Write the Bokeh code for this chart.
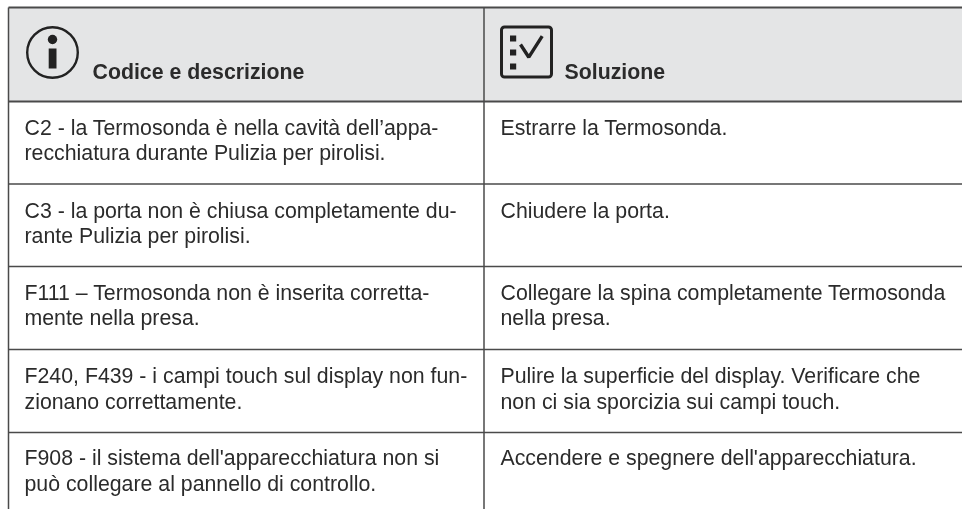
from bokeh.plotting import figure
from bokeh.models import Range1d
from bokeh.core.properties import value
from bokeh.embed import file_html
from bokeh.resources import INLINE

header_labels = ["Codice e descrizione", "Soluzione"]
left_lines = [
    "C2 - la Termosonda è nella cavità dell’appa-", "recchiatura durante Pulizia per pirolisi.",
    "C3 - la porta non è chiusa completamente du-", "rante Pulizia per pirolisi.",
    "F111 – Termosonda non è inserita corretta-", "mente nella presa.",
    "F240, F439 - i campi touch sul display non fun-", "zionano correttamente.",
    "F908 - il sistema dell'apparecchiatura non si", "può collegare al pannello di controllo.",
]
right_lines = [
    "Estrarre la Termosonda.",
    "Chiudere la porta.",
    "Collegare la spina completamente Termosonda", "nella presa.",
    "Pulire la superficie del display. Verificare che", "non ci sia sporcizia sui campi touch.",
    "Accendere e spegnere dell'apparecchiatura.",
]

W, H = 962, 509
p = figure(width=W, height=H, output_backend="svg", toolbar_location=None,
           x_range=Range1d(0, W), y_range=Range1d(H, 0), min_border=0,
           outline_line_color=None, background_fill_color="white", border_fill_color="white")
p.styles = {"position": "fixed", "left": "0px", "top": "0px"}
p.xaxis.visible = False
p.yaxis.visible = False
p.grid.visible = False

INK = "#2b2b2b"
LINE = "#4a4a4a"
ICON = "#222222"
p.quad(left=[8], right=[W], top=[7], bottom=[101], fill_color="#e4e5e6", line_color=None)

p.segment(x0=[8]*2, x1=[W]*2, y0=[7, 101], y1=[7, 101], line_color=LINE, line_width=2)
rules = [183.5, 266, 349, 432]
p.segment(x0=[8]*4, x1=[W]*4, y0=rules, y1=rules, line_color=LINE, line_width=1.5)
p.segment(x0=[8, 483.5], x1=[8, 483.5], y0=[7, 7], y1=[H, H], line_color=LINE, line_width=1.5)

left_y = [135, 160, 218, 243, 300, 325, 383, 409, 465, 491]
right_y = [135, 218, 300, 325, 383, 409, 465]
for xs, ys, tx in ((24, left_y, left_lines), (500, right_y, right_lines)):
    p.text(x=[xs]*len(tx), y=ys, text=tx, text_font=value("Liberation Sans"), text_font_size="21.3px",
           text_color=INK, text_baseline="alphabetic", y_offset=-8)
p.text(x=[92, 564], y=[78, 78], text=header_labels, text_font=value("Liberation Sans"), text_font_size="21.3px",
       text_font_style="bold", text_color=INK, text_baseline="alphabetic", y_offset=-7)

# info icon
p.circle(x=[52], y=[52], radius=[25.3], fill_color=None, line_color=ICON, line_width=2.4)
p.circle(x=[52], y=[39], radius=[4.7], fill_color=ICON, line_color=None)
p.quad(left=[48.2], right=[56], top=[48], bottom=[68], fill_color=ICON, line_color=None)

# checklist icon
p.quad(left=[501], right=[551], top=[26.5], bottom=[76.5], fill_color=None, line_color=ICON,
       line_width=3, border_radius=3)
p.quad(left=[509.5]*3, right=[515.7]*3, top=[35, 49, 63], bottom=[41, 55, 69], fill_color=ICON, line_color=None)
p.line(x=[520, 528.3, 541.7], y=[44, 56.7, 35.7], line_color=ICON, line_width=3.4)

open("out.html", "w").write(file_html(p, INLINE))
